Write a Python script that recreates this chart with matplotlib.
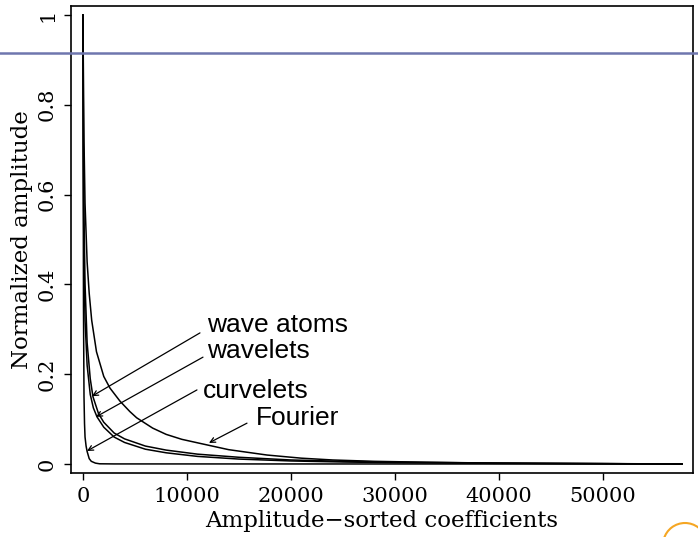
import numpy as np
import matplotlib.pyplot as plt
from matplotlib.lines import Line2D
from matplotlib.patches import Arc

# coefficient index and normalized amplitude for each transform
fourier_k = [0, 20, 50, 100, 200, 400, 600, 840, 1300, 2000, 2600, 3560, 4500,
             5160, 6700, 8000, 9500, 11250, 14000, 17700, 21000, 24000, 28000,
             33000, 38000, 44000, 50000, 57600]
fourier_v = [1.0, 0.93, 0.85, 0.72, 0.58, 0.45, 0.38, 0.32, 0.25, 0.195, 0.169,
             0.14, 0.117, 0.103, 0.08, 0.066, 0.055, 0.046, 0.032, 0.02, 0.013,
             0.009, 0.006, 0.004, 0.0025, 0.0015, 0.0008, 0.0]

atoms_k = [0, 20, 50, 100, 200, 400, 700, 960, 1500, 2000, 3000, 4000, 6000,
           8000, 11000, 15000, 20000, 25000, 30000, 40000, 50000, 57600]
atoms_v = [1.0, 0.85, 0.7, 0.55, 0.4, 0.27, 0.19, 0.15, 0.112, 0.093, 0.069,
           0.056, 0.04, 0.031, 0.022, 0.015, 0.009, 0.006, 0.0042, 0.002,
           0.001, 0.0]

wavelets_k = [0, 20, 50, 100, 200, 400, 700, 1000, 1350, 2000, 3000, 4000,
              6000, 8000, 11000, 15000, 20000, 25000, 30000, 40000, 50000, 57600]
wavelets_v = [1.0, 0.78, 0.6, 0.45, 0.32, 0.22, 0.155, 0.125, 0.105, 0.082,
              0.06, 0.048, 0.033, 0.025, 0.017, 0.011, 0.0068, 0.0045, 0.003,
              0.0015, 0.0008, 0.0]

curvelets_k = [0, 10, 20, 50, 100, 150, 200, 300, 400, 600, 800, 1200, 1600,
               3000, 57600]
curvelets_v = [1.0, 0.85, 0.7, 0.35, 0.15, 0.09, 0.06, 0.04, 0.028, 0.012,
               0.006, 0.002, 0.0005, 0.0002, 0.0]

# label text, arrow tail and arrow tip (index, amplitude)
labels = ["wave atoms", "wavelets", "curvelets", "Fourier"]
text_pos = [(11920, 0.294), (11920, 0.237), (11540, 0.147), (16630, 0.087)]
tail_pos = [(11250, 0.292), (11540, 0.238), (10960, 0.165), (15770, 0.091)]
tip_pos = [(865, 0.151), (1250, 0.105), (385, 0.029), (12115, 0.047)]

serif = "DejaVu Serif"

fig = plt.figure(figsize=(6.98, 5.37), dpi=100)
ax = fig.add_axes([71 / 698, 1 - 473 / 537, 622 / 698, 467 / 537])

for k, v in [(fourier_k, fourier_v), (atoms_k, atoms_v),
             (wavelets_k, wavelets_v), (curvelets_k, curvelets_v)]:
    ax.plot(k, v, color="black", lw=1.1)

for name, tp, tl, tip in zip(labels, text_pos, tail_pos, tip_pos):
    ax.annotate("", xy=tip, xytext=tl,
                arrowprops=dict(arrowstyle="->", color="black", lw=0.9,
                                mutation_scale=9, shrinkA=0, shrinkB=0))
    ax.text(tp[0], tp[1], name, family="Liberation Sans", fontsize=19,
            ha="left", va="baseline")

ax.set_xlim(-1150, 58650)
ax.set_ylim(-0.02, 1.02)
ax.set_xticks([0, 10000, 20000, 30000, 40000, 50000])
ax.set_yticks([0, 0.2, 0.4, 0.6, 0.8, 1.0])
ax.set_yticklabels(["0", "0.2", "0.4", "0.6", "0.8", "1"], rotation=90,
                   va="center")
ax.tick_params(length=5, width=1, pad=5, labelsize=15, direction="out")
for lab in ax.get_xticklabels() + ax.get_yticklabels():
    lab.set_family(serif)
for sp in ax.spines.values():
    sp.set_linewidth(1.2)

ax.set_xlabel("Amplitude\u2212sorted coefficients", family=serif, fontsize=16.5,
              labelpad=3)
ax.set_ylabel("Normalized amplitude", family=serif, fontsize=16.5, labelpad=4)

# horizontal rule and partial badge over the figure
fig.add_artist(Line2D([0, 1], [1 - 53 / 537, 1 - 53 / 537],
                      transform=fig.transFigure, color="#6f76ae", lw=1.8))
fig.add_artist(Arc((685 / 698, 1 - 545 / 537), 44 / 698, 44 / 537,
                   theta1=20, theta2=160, transform=fig.transFigure,
                   color="#f5a623", lw=1.5))

fig.savefig("out.png", dpi=100)
